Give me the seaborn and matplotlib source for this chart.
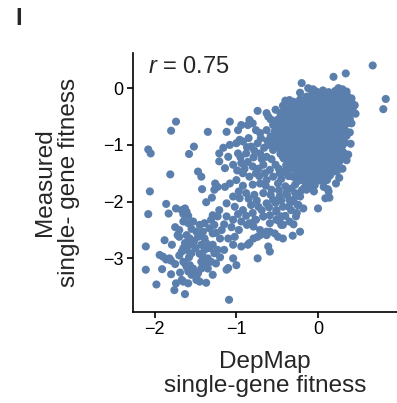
import numpy as np
import pandas as pd
import seaborn as sns
import matplotlib.pyplot as plt

# ---- data ----
x_ticks = [-2, -1, 0]
y_ticks = [-3, -2, -1, 0]
r_label = "0.75"

outlier_pts = [
    (0.67, 0.40), (0.34, 0.26), (0.19, 0.20), (0.83, -0.19), (0.80, -0.37),
    (-0.20, 0.09), (-0.06, -0.02),
]

left_pts = [
    (-2.08, -1.08), (-2.05, -1.15), (-1.52, -1.03), (-1.58, -1.16), (-1.21, -1.15),
    (-1.21, -1.29), (-1.81, -1.52), (-1.47, -1.47), (-1.43, -1.56), (-2.06, -1.82),
    (-1.42, -1.78), (-1.26, -1.68), (-1.23, -1.74), (-1.27, -1.79), (-1.30, -1.93),
    (-1.37, -2.01), (-1.86, -2.04), (-2.08, -2.22), (-1.83, -2.21), (-1.74, -2.12),
    (-1.67, -2.15), (-1.63, -2.12), (-1.61, -2.18), (-1.65, -2.22), (-1.59, -2.25),
    (-1.65, -2.35), (-1.59, -2.38), (-1.53, -2.35), (-1.45, -2.41), (-1.39, -2.38),
    (-1.31, -2.32), (-1.29, -2.24), (-1.23, -2.26), (-1.21, -2.15), (-1.27, -2.41),
    (-1.33, -2.47), (-1.74, -0.59), (-1.80, -0.75), (-1.35, -0.77),
    (-2.11, -2.79), (-2.11, -3.20), (-1.98, -3.46), (-1.88, -2.68), (-1.79, -2.76),
    (-1.94, -2.94), (-1.90, -2.97), (-1.86, -3.02), (-1.82, -3.00), (-1.80, -3.04),
    (-1.91, -3.19), (-1.72, -2.59), (-1.70, -2.62), (-1.61, -2.59), (-1.57, -2.65),
    (-1.74, -3.44), (-1.76, -3.56), (-1.63, -3.63), (-1.67, -3.38), (-1.65, -3.41),
    (-1.59, -3.44), (-1.49, -3.38), (-1.45, -3.41), (-1.37, -3.43), (-1.29, -3.29),
    (-1.65, -3.06), (-1.63, -3.09), (-1.61, -3.15), (-1.57, -3.12), (-1.55, -3.21),
    (-1.53, -3.18), (-1.51, -3.23), (-1.59, -3.23), (-1.47, -3.26), (-1.55, -3.29),
    (-1.49, -3.32), (-1.65, -2.82), (-1.61, -2.85), (-1.67, -2.88), (-1.57, -2.76),
    (-1.55, -2.91), (-1.63, -2.73), (-1.49, -2.53), (-1.45, -2.56), (-1.41, -2.53),
    (-1.47, -2.62), (-1.39, -2.65), (-1.37, -2.73), (-1.43, -2.76), (-1.39, -2.85),
    (-1.33, -2.82), (-1.29, -2.76), (-1.27, -2.91), (-1.41, -2.97), (-1.35, -3.00),
    (-1.31, -3.06), (-1.25, -3.09), (-1.23, -2.85), (-1.20, -2.65), (-1.29, -2.56),
    (-1.37, -3.09), (-1.43, -3.06),
    (-1.75, -2.45), (-1.70, -2.50), (-1.55, -2.48), (-1.52, -2.70), (-1.50, -2.82),
    (-1.45, -2.92), (-1.58, -2.98), (-1.70, -2.95), (-1.75, -3.10), (-1.80, -3.28),
    (-1.69, -3.25), (-1.43, -3.18), (-1.35, -3.18), (-1.20, -2.98), (-1.15, -2.85),
    (-1.18, -2.50), (-1.25, -2.55),
]

low_mid_pts = [
    (-1.10, -2.65), (-1.02, -2.62), (-1.04, -2.76), (-0.94, -2.79), (-0.86, -2.76),
    (-0.84, -2.73), (-0.74, -2.62), (-0.69, -2.56), (-0.63, -2.59), (-0.59, -2.53),
    (-0.53, -2.56), (-0.49, -2.62), (-0.43, -2.65), (-0.31, -2.60), (-0.22, -2.53),
    (-0.61, -2.79), (-0.59, -2.88), (-0.74, -3.00), (-1.04, -3.00), (-1.00, -3.12),
    (-1.10, -3.17), (-1.12, -3.20), (-1.09, -3.73),
    (0.00, -2.12), (-0.26, -2.20), (-0.18, -2.12), (-0.24, -2.06), (-0.36, -2.09),
    (-0.32, -2.00), (0.09, -1.94), (0.13, -1.82), (0.14, -1.93), (-0.47, -2.35),
    (-0.45, -2.41), (-0.51, -2.32), (-0.79, -2.65), (-0.71, -2.59), (-0.63, -2.53),
    (-0.87, -2.41), (-0.79, -2.44), (-0.71, -2.50), (-0.77, -2.32), (-0.67, -2.26),
    (-0.59, -2.38), (-0.51, -2.18), (-0.45, -2.26), (-0.38, -1.88), (-0.30, -1.97),
    (-0.22, -1.91), (-0.14, -1.79), (-0.08, -1.71), (-0.02, -1.62), (0.07, -1.74),
    (0.11, -1.62), (0.15, -1.53), (0.23, -1.47),
]

mid_pts = [
    (-1.08, -1.00), (-1.00, -0.97), (-0.92, -0.94), (-0.98, -1.15), (-1.10, -1.21),
    (-1.14, -1.41), (-1.04, -1.35), (-0.94, -1.32), (-0.88, -1.15), (-0.82, -1.03),
    (-0.74, -0.97), (-0.71, -1.15), (-0.63, -1.21), (-0.55, -1.09), (-0.67, -1.35),
    (-0.59, -1.44), (-0.76, -1.50), (-0.84, -1.56), (-0.92, -1.50), (-1.00, -1.62),
    (-1.08, -1.68), (-1.14, -1.74), (-0.71, -1.68), (-0.63, -1.62), (-0.55, -1.56),
    (-0.49, -1.68), (-0.57, -1.79), (-0.67, -1.85), (-0.78, -1.88), (-0.88, -1.85),
    (-0.96, -1.94), (-1.04, -1.91), (-1.12, -2.03), (-1.02, -2.09), (-0.92, -2.15),
    (-0.82, -2.06), (-0.73, -2.09), (-0.63, -2.03), (-0.55, -1.97), (-0.47, -1.91),
    (-0.39, -1.85), (-0.35, -1.97), (-0.43, -2.09), (-0.51, -2.15), (-0.59, -2.24),
    (-0.67, -2.26), (-0.76, -2.32), (-0.84, -2.38), (-0.94, -2.35), (-1.04, -2.32),
    (-1.12, -2.26), (-0.33, -2.15), (-0.25, -2.06), (-0.27, -2.26), (-0.35, -2.35),
    (-0.43, -2.41), (-0.47, -1.50), (-0.39, -1.44), (-0.31, -1.56), (-0.22, -1.62),
    (-0.14, -1.50), (-0.08, -1.38), (-0.35, -1.26), (-0.43, -1.21), (-0.27, -1.15),
    (-0.14, -1.09), (-0.10, -1.26),
    (-0.43, -0.31), (-0.63, -0.44), (-0.61, -0.50), (-0.74, -0.40), (-0.84, -0.56),
    (-0.80, -0.62), (-0.86, -0.65), (-0.94, -0.65), (-0.98, -0.74), (-1.08, -0.59),
    (-1.12, -0.77), (-0.76, -0.74), (-0.71, -0.79), (-0.63, -0.74), (-0.55, -0.65),
    (-0.35, -0.21), (-0.27, -0.27), (-0.22, -0.38), (-0.29, -0.44), (-0.14, -0.15),
    (-0.08, -0.03), (-0.51, -0.68), (-0.45, -0.79), (-0.39, -0.71),
    (-0.96, -0.91), (-0.85, -0.88), (-0.87, -1.04),
    (-0.58, -0.85), (-0.60, -1.00), (-0.62, -0.93), (-0.57, -1.25), (-0.66, -1.05),
    (-0.70, -0.88), (-0.52, -1.35), (-0.48, -1.42), (-0.79, -1.22), (-0.80, -1.38),
    (-0.86, -1.30), (-0.72, -1.55), (-0.64, -1.72), (-0.45, -1.60), (-0.40, -1.73),
    (-1.16, -1.05), (-0.95, -1.22), (-0.78, -1.10), (-0.69, -1.25), (-0.90, -1.42),
    (-0.99, -1.45), (-0.73, -1.42), (-0.65, -1.50), (-0.80, -1.70), (-0.92, -1.72),
    (-0.97, -1.82), (-0.85, -1.95), (-0.75, -1.98), (-0.69, -2.15), (-0.80, -2.20),
    (-0.88, -2.25), (-0.98, -2.22), (-1.15, -2.40), (-1.06, -2.45), (-0.97, -2.50),
    (-0.60, -2.10), (-0.52, -2.02), (-0.45, -1.98), (-0.40, -2.25), (-0.30, -2.40),
    (-0.58, -1.88), (-0.48, -1.80), (-0.33, -1.77), (-0.28, -1.85), (-0.20, -1.80),
]

core_edge_pts = [
    (-0.58, -0.55), (-0.52, -0.38), (-0.40, -0.22), (-0.22, -0.08), (-0.12, 0.00),
    (0.25, 0.00), (0.30, -0.02), (0.45, -0.30), (0.46, -0.45), (0.41, -0.62),
    (0.39, -0.78), (0.40, -0.98), (0.37, -1.17), (0.30, -1.42), (0.26, -1.58),
    (0.22, -1.68), (0.12, -1.78), (-0.05, -1.82), (-0.28, -1.70), (-0.36, -1.55),
    (-0.44, -1.50),
]

core_pts = [
    (-0.02, -0.06), (0.06, -0.04), (0.13, -0.07), (0.21, -0.05), (0.29, -0.08), (0.35, -0.06),
    (-0.12, -0.15), (-0.04, -0.17), (0.04, -0.14), (0.12, -0.16), (0.20, -0.13), (0.28, -0.17),
    (0.36, -0.14), (0.41, -0.18),
    (-0.30, -0.24), (-0.21, -0.27), (-0.13, -0.23), (-0.05, -0.26), (0.03, -0.25), (0.11, -0.27),
    (0.19, -0.24), (0.27, -0.26), (0.35, -0.23), (0.42, -0.27),
    (-0.38, -0.36), (-0.29, -0.34), (-0.20, -0.37), (-0.12, -0.33), (-0.03, -0.36), (0.05, -0.34),
    (0.13, -0.37), (0.21, -0.35), (0.29, -0.33), (0.37, -0.36), (0.43, -0.34),
    (-0.46, -0.44), (-0.37, -0.47), (-0.28, -0.45), (-0.19, -0.43), (-0.11, -0.46), (-0.02, -0.44),
    (0.06, -0.47), (0.14, -0.45), (0.22, -0.43), (0.30, -0.46), (0.37, -0.44),
    (-0.50, -0.56), (-0.41, -0.54), (-0.33, -0.57), (-0.24, -0.55), (-0.15, -0.53), (-0.07, -0.56),
    (0.02, -0.54), (0.10, -0.57), (0.18, -0.55), (0.26, -0.53), (0.33, -0.56), (0.39, -0.54),
    (-0.45, -0.64), (-0.37, -0.67), (-0.28, -0.65), (-0.19, -0.63), (-0.10, -0.66), (-0.01, -0.64),
    (0.07, -0.66), (0.15, -0.63), (0.24, -0.65), (0.32, -0.67), (0.36, -0.62),
    (-0.53, -0.76), (-0.43, -0.74), (-0.34, -0.77), (-0.25, -0.75), (-0.16, -0.73), (-0.08, -0.76),
    (0.01, -0.74), (0.09, -0.77), (0.18, -0.75), (0.26, -0.73), (0.34, -0.76),
    (-0.48, -0.84), (-0.39, -0.87), (-0.30, -0.85), (-0.21, -0.83), (-0.13, -0.86), (-0.04, -0.84),
    (0.05, -0.87), (0.13, -0.85), (0.21, -0.83), (0.29, -0.86), (0.35, -0.84),
    (-0.54, -0.96), (-0.44, -0.94), (-0.36, -0.97), (-0.27, -0.95), (-0.18, -0.93), (-0.10, -0.96),
    (0.00, -0.94), (0.09, -0.97), (0.17, -0.95), (0.25, -0.93), (0.33, -0.96),
    (-0.50, -1.04), (-0.40, -1.07), (-0.32, -1.05), (-0.23, -1.03), (-0.14, -1.06), (-0.05, -1.04),
    (0.04, -1.07), (0.12, -1.05), (0.20, -1.03), (0.28, -1.06),
    (-0.46, -1.16), (-0.38, -1.14), (-0.29, -1.17), (-0.19, -1.15), (-0.11, -1.13), (-0.02, -1.16),
    (0.07, -1.14), (0.15, -1.17), (0.24, -1.15), (0.31, -1.13),
    (-0.42, -1.24), (-0.34, -1.27), (-0.25, -1.25), (-0.16, -1.23), (-0.08, -1.26), (0.02, -1.24),
    (0.11, -1.27), (0.19, -1.25), (0.27, -1.23), (0.35, -1.27),
    (-0.39, -1.36), (-0.30, -1.34), (-0.21, -1.37), (-0.13, -1.35), (-0.03, -1.33), (0.06, -1.36),
    (0.14, -1.34), (0.22, -1.37),
    (-0.35, -1.44), (-0.26, -1.47), (-0.16, -1.45), (-0.08, -1.43), (0.01, -1.46), (0.10, -1.44),
    (0.18, -1.47),
    (-0.29, -1.56), (-0.20, -1.54), (-0.12, -1.57), (-0.03, -1.55), (0.06, -1.53), (0.13, -1.56),
    (-0.25, -1.64), (-0.15, -1.67), (-0.06, -1.65), (0.03, -1.63),
    (-0.17, -1.76), (-0.09, -1.74),
]

core_fill_pts = [
    (-0.06, -0.11), (0.02, -0.09), (0.10, -0.12), (0.18, -0.10), (0.25, -0.11), (0.33, -0.09),
    (-0.22, -0.20), (-0.09, -0.21), (0.00, -0.19), (0.08, -0.22), (0.16, -0.20), (0.24, -0.19),
    (0.32, -0.21), (0.39, -0.20),
    (-0.33, -0.30), (-0.25, -0.31), (-0.16, -0.29), (-0.08, -0.31), (0.01, -0.30), (0.09, -0.29),
    (0.17, -0.31), (0.25, -0.30), (0.33, -0.29), (0.40, -0.31),
    (-0.42, -0.40), (-0.33, -0.41), (-0.24, -0.39), (-0.15, -0.41), (-0.07, -0.40), (0.02, -0.39),
    (0.10, -0.41), (0.18, -0.40), (0.26, -0.39), (0.34, -0.41), (0.40, -0.40),
    (-0.46, -0.50), (-0.37, -0.51), (-0.29, -0.49), (-0.20, -0.51), (-0.11, -0.50), (-0.03, -0.49),
    (0.06, -0.51), (0.14, -0.50), (0.22, -0.49), (0.30, -0.51), (0.36, -0.50),
    (-0.48, -0.60), (-0.41, -0.61), (-0.32, -0.59), (-0.23, -0.61), (-0.14, -0.60), (-0.05, -0.59),
    (0.03, -0.61), (0.11, -0.60), (0.20, -0.59), (0.28, -0.61), (0.34, -0.60),
    (-0.49, -0.70), (-0.40, -0.71), (-0.31, -0.69), (-0.22, -0.71), (-0.13, -0.70), (-0.04, -0.69),
    (0.05, -0.71), (0.13, -0.70), (0.22, -0.69), (0.30, -0.71),
    (-0.52, -0.80), (-0.43, -0.81), (-0.34, -0.79), (-0.25, -0.81), (-0.17, -0.80), (-0.08, -0.79),
    (0.01, -0.81), (0.09, -0.80), (0.17, -0.79), (0.25, -0.81), (0.32, -0.80),
    (-0.50, -0.90), (-0.40, -0.91), (-0.31, -0.89), (-0.23, -0.91), (-0.14, -0.90), (-0.06, -0.89),
    (0.04, -0.91), (0.12, -0.90), (0.21, -0.89), (0.29, -0.91),
    (-0.49, -1.00), (-0.40, -1.01), (-0.31, -0.99), (-0.22, -1.01), (-0.13, -1.00), (-0.04, -0.99),
    (0.05, -1.01), (0.13, -1.00), (0.21, -0.99), (0.30, -1.01),
    (-0.45, -1.10), (-0.36, -1.11), (-0.27, -1.09), (-0.18, -1.11), (-0.09, -1.10), (0.00, -1.09),
    (0.08, -1.11), (0.16, -1.10), (0.24, -1.09),
    (-0.38, -1.21), (-0.29, -1.19), (-0.20, -1.21), (-0.12, -1.20), (-0.03, -1.19),
    (0.06, -1.21), (0.15, -1.20), (0.23, -1.19), (0.31, -1.21),
    (-0.35, -1.30), (-0.26, -1.31), (-0.17, -1.29), (-0.08, -1.31), (0.01, -1.30), (0.10, -1.29),
    (0.18, -1.31), (0.26, -1.30),
    (-0.31, -1.40), (-0.22, -1.41), (-0.12, -1.39), (-0.03, -1.41), (0.06, -1.40), (0.14, -1.39),
    (-0.25, -1.50), (-0.16, -1.51), (-0.07, -1.49), (0.02, -1.51), (0.10, -1.50),
    (-0.20, -1.60), (-0.10, -1.61), (-0.01, -1.59), (0.08, -1.61),
    (-0.13, -1.70), (-0.04, -1.71),
]

all_pts = (outlier_pts + left_pts + low_mid_pts + mid_pts
           + core_edge_pts + core_pts + core_fill_pts)
df = pd.DataFrame(all_pts, columns=["depmap", "measured"])

# ---- style ----
sns.set_style("ticks")
plt.rcParams["font.family"] = ["Liberation Sans", "DejaVu Sans"]
plt.rcParams["mathtext.fontset"] = "custom"
plt.rcParams["mathtext.rm"] = "Liberation Sans"
plt.rcParams["mathtext.it"] = "Liberation Sans:italic"

W, H = 397, 403
fig = plt.figure(figsize=(W / 100, H / 100), dpi=100)
left_px, right_px, top_px, bottom_px = 133.3, 398.0, 53.0, 311.7
ax = fig.add_axes([left_px / W, 1 - bottom_px / H,
                   (right_px - left_px) / W, (bottom_px - top_px) / H])

sns.scatterplot(data=df, x="depmap", y="measured", s=34, color="#5b7fad",
                linewidth=0, edgecolor="none", legend=False, ax=ax)

ax.set_xlim(-2.263, 0.98)
ax.set_ylim(-3.94, 0.62)
ax.set_xticks(x_ticks)
ax.set_yticks(y_ticks)
ax.set_xticklabels([f"\u2212{abs(t)}" if t < 0 else str(t) for t in x_ticks])
ax.set_yticklabels([f"\u2212{abs(t)}" if t < 0 else str(t) for t in y_ticks])
sns.despine(ax=ax)
for s in ["left", "bottom"]:
    ax.spines[s].set_linewidth(1.2)
    ax.spines[s].set_color("black")
ax.tick_params(axis="both", length=4, width=1.2, labelsize=13, colors="black", pad=3)
ax.set_xlabel("")
ax.set_ylabel("")

fig.text(265 / W, 1 - 374 / H, "DepMap\nsingle-gene fitness", fontsize=17.5,
         ha="center", va="center", linespacing=1.15)
fig.text(57 / W, 1 - 182 / H, "Measured\nsingle- gene fitness", fontsize=17.5,
         ha="center", va="center", rotation=90, linespacing=1.15)

fig.text(148 / W, 1 - 73 / H, "$r$ = " + r_label, fontsize=17,
         ha="left", va="baseline")
fig.text(15 / W, 1 - 25 / H, "I", fontsize=17, fontweight="bold", ha="left", va="baseline")

fig.savefig("out.png", dpi=100)
